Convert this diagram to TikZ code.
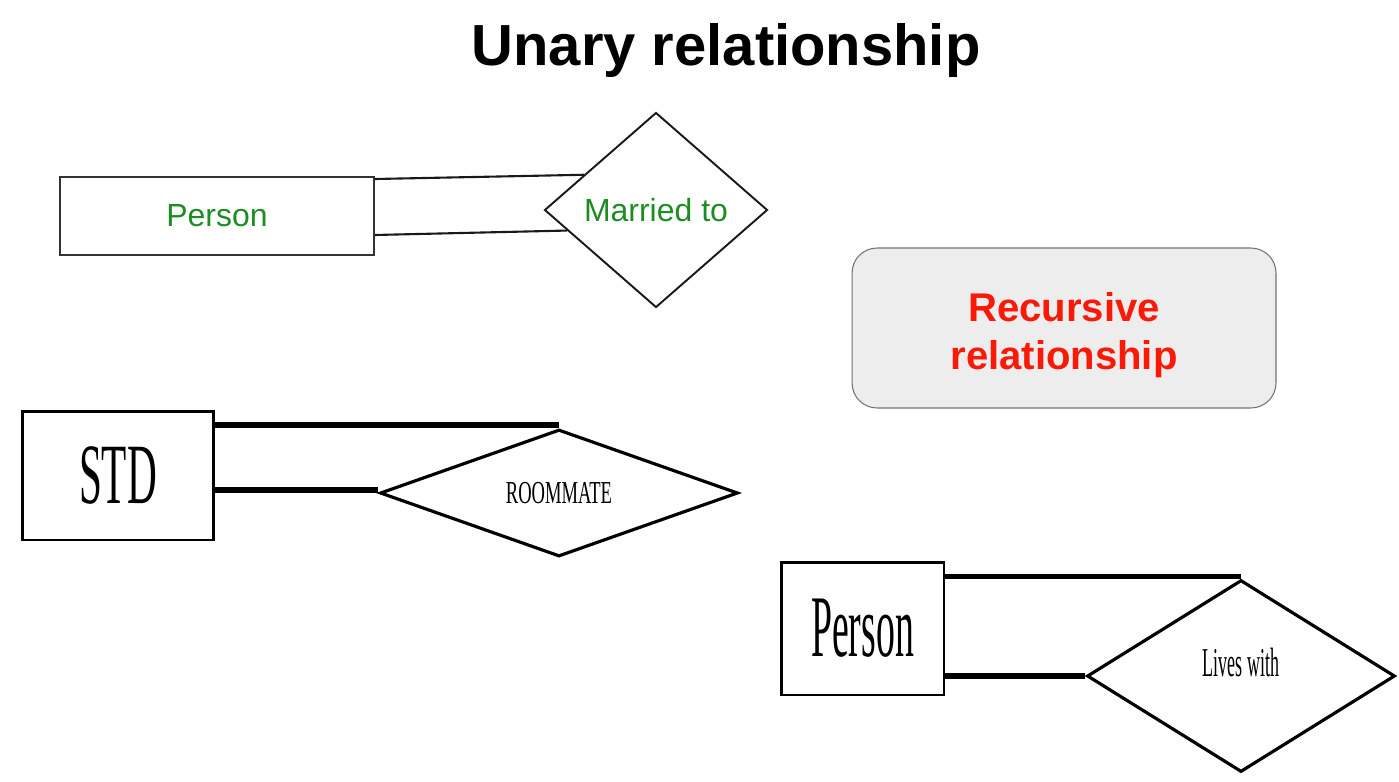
\documentclass[tikz,border=0pt]{standalone}
\usepackage{fontspec}
\setmainfont{Liberation Sans}
\newfontfamily\timesfont{Liberation Serif}
\usetikzlibrary{shapes,calc,positioning}
\definecolor{relgreen}{RGB}{30,140,35}
\definecolor{recred}{RGB}{250,25,5}

\begin{document}
\begin{tikzpicture}[x=0.02cm,y=-0.02cm,
    entity/.style={draw,rectangle,inner sep=0pt},
    relation/.style={draw,diamond,aspect=2,inner sep=0pt},
    link/.style={line width=3.2pt}]
       \useasboundingbox (0,0) rectangle (1399,781);
       \node[font=\fontsize{33}{40}\selectfont\bfseries] (title) at (726,51) {Unary relationship};
       % married to
       \node[entity,draw=black!80,line width=1.1pt,minimum width=6.28cm,minimum height=1.56cm,text=relgreen,font=\fontsize{18.2}{22}\selectfont] (P) at (217,216) {Person};
       \node[relation,draw=black!90,line width=1.1pt,minimum width=4.46cm,minimum height=3.9cm,text=relgreen,font=\fontsize{18.2}{22}\selectfont] (M) at (656,210) {Married to};
       \draw[line width=1.2pt,black!90] ([yshift=0.74cm]P.east) -- (M.154);
       \draw[line width=1.2pt,black!90] ([yshift=-0.38cm]P.east) -- (M.193);
       % roommate
       \node[entity,line width=1.7pt,minimum width=3.84cm,minimum height=2.58cm,font=\timesfont\fontsize{48.9}{50}\selectfont] (S) at (118,475.5) {\scalebox{0.48}[1]{STD}};
       \node[relation,line width=1.8pt,minimum width=7.16cm,minimum height=2.54cm,font=\timesfont\fontsize{18.2}{20}\selectfont] (R) at (559,493) {\scalebox{0.58}[1]{ROOMMATE}};
       \draw[link] ([yshift=0.06cm]R.north) -- ([yshift=0.06cm]R.north -| S.east);
       \draw[link] ([yshift=0.06cm]R.west) -- ([yshift=0.06cm]R.west -| S.east);
       % lives with
       \node[entity,line width=1.7pt,minimum width=3.26cm,minimum height=2.66cm,font=\timesfont\fontsize{50}{52}\selectfont] (Q) at (862.5,628.5) {\scalebox{0.43}[1]{Person}};
       \node[relation,line width=1.8pt,minimum width=6.16cm,minimum height=3.84cm,
             label={[font=\timesfont\fontsize{23.3}{25}\selectfont,yshift=0.27cm]center:\scalebox{0.44}[1]{Lives with}}] (L) at (1241,676) {};
       \draw[link] ([yshift=0.04cm]L.north) -- ([yshift=0.04cm]L.north -| Q.east);
       \draw[link] (L.west) -- (L.west -| Q.east);
       % recursive
       \node[draw=black!55,fill=black!7,rounded corners=0.5cm,line width=0.6pt,minimum width=8.48cm,minimum height=3.2cm,
             text=recred,align=center,font=\fontsize{22.8}{27.3}\selectfont\bfseries] (T) at (1064,328) {\\[-0.1cm]Recursive\\relationship};
     \end{tikzpicture}
\end{document}
